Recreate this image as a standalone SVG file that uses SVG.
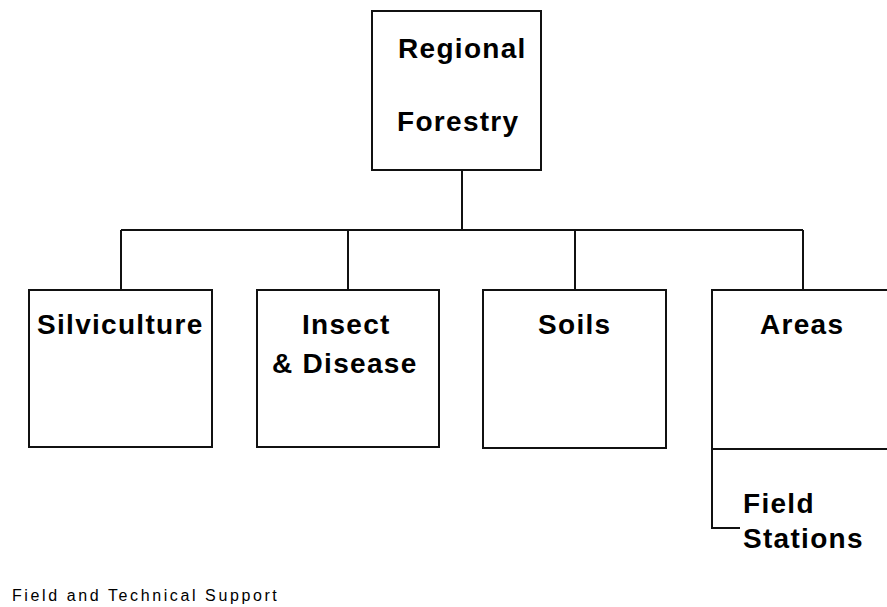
<svg xmlns="http://www.w3.org/2000/svg" width="887" height="607" viewBox="0 0 887 607">
<style>
.box{fill:#fff;stroke:#111;stroke-width:2}
.ln{fill:none;stroke:#111;stroke-width:2}
.t{font-family:"Liberation Sans",Arial,sans-serif;font-weight:bold;font-size:28px;letter-spacing:1.3px;fill:#000}
.s{font-family:"Liberation Sans",Arial,sans-serif;font-size:16px;letter-spacing:2.6px;fill:#000}
</style>
<rect width="887" height="607" fill="#fff"/>
<g id="connectors">
<path class="ln" d="M462,170 V230 M121,230 H803 M121,230 V290 M348,230 V290 M575,230 V290 M803,230 V290"/>
<path class="ln" d="M712,449 V528 H740"/>
</g>
<g id="regional-forestry">
<rect class="box" x="372" y="11" width="169" height="159"/>
<text class="t" x="398" y="58">Regional</text>
<text class="t" x="397" y="131">Forestry</text>
</g>
<g id="silviculture">
<rect class="box" x="29" y="290" width="183" height="157"/>
<text class="t" x="37" y="334">Silviculture</text>
</g>
<g id="insect-disease">
<rect class="box" x="257" y="290" width="182" height="157"/>
<text class="t" x="302" y="334">Insect</text>
<text class="t" x="272" y="373">&amp; Disease</text>
</g>
<g id="soils">
<rect class="box" x="483" y="290" width="183" height="158"/>
<text class="t" x="538" y="334">Soils</text>
</g>
<g id="areas">
<path class="box" d="M888,290 H712 V449 H888"/>
<text class="t" x="760" y="334">Areas</text>
</g>
<g id="field-stations">
<text class="t" x="743" y="513">Field</text>
<text class="t" x="743" y="548">Stations</text>
</g>
<text class="s" x="12" y="601">Field and Technical Support</text>
</svg>
